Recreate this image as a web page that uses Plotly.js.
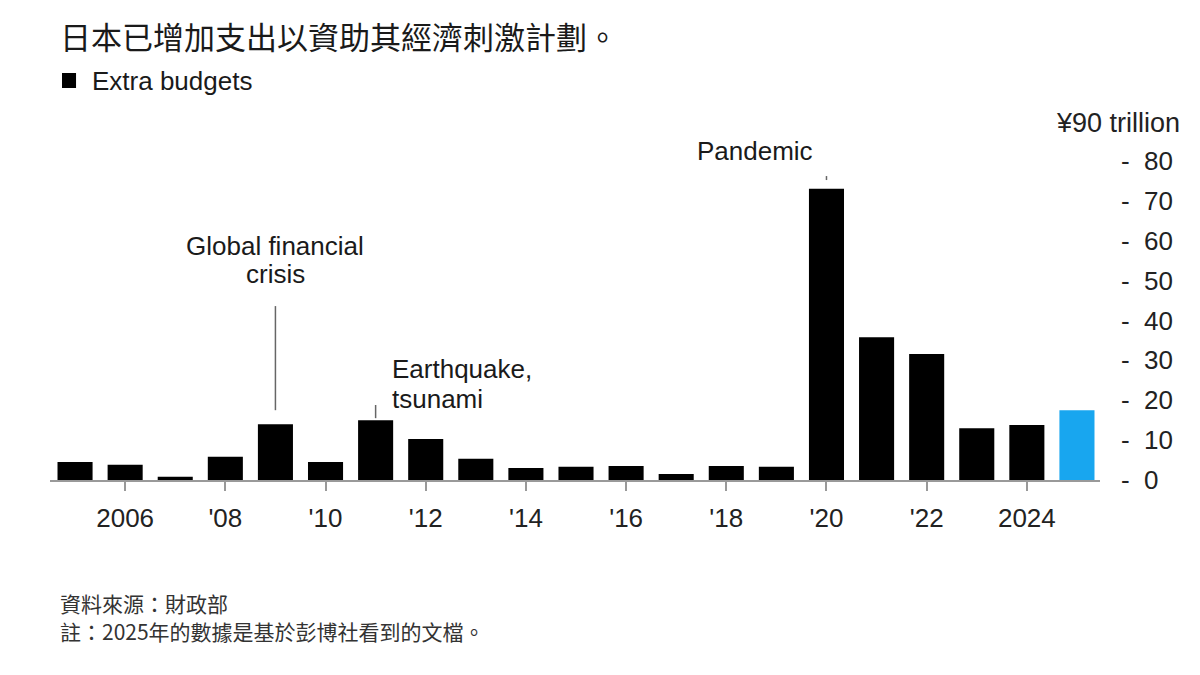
<!DOCTYPE html>
<html><head><meta charset="utf-8">
<script src="https://cdn.plot.ly/plotly-3.0.1.min.js"></script>
<style>body{margin:0;background:#fff}#c{width:1200px;height:675px}</style>
</head><body><div id="c"></div>
<script>
const years = [2005,2006,2007,2008,2009,2010,2011,2012,2013,2014,2015,2016,2017,2018,2019,2020,2021,2022,2023,2024,2025];
const budgets = [4.5,3.8,0.8,5.8,14,4.5,15,10.3,5.3,3.0,3.3,3.5,1.5,3.5,3.3,73,35.8,31.6,13,13.8,17.5];
const tickYears = [2006,2008,2010,2012,2014,2016,2018,2020,2022,2024];
const tickLabels = ["2006","'08","'10","'12","'14","'16","'18","'20","'22","2024"];
const yTicks = [0,10,20,30,40,50,60,70,80];
const yTickLabels = yTicks.map(v => "-  " + v);

const colors = years.map(y => y === 2025 ? '#18a6ef' : '#000000');
const font = "Liberation Sans, Arial, Noto Sans CJK TC, sans-serif";
const cjk = "Noto Sans CJK TC, Liberation Sans, sans-serif";
const txt = '#1a1a1a';

const trace = {type:'bar', x: years, y: budgets, marker:{color: colors}, width:0.7, hoverinfo:'x+y'};

function ann(text, x, y, xanchor, size, xref, yref, f, color) {
  return {text:text, xref:xref||'x', yref:yref||'y', x:x, y:y, xanchor:xanchor, yanchor:'middle', showarrow:false,
    font:{family:f||font, size:size, color:color||txt}};
}

const layout = {
  width:1200, height:675,
  margin:{l:50, r:100, t:121, b:195},
  paper_bgcolor:'#fff', plot_bgcolor:'#fff',
  showlegend:false,
  xaxis:{range:[2004.5,2025.46], tickvals:tickYears, ticktext:tickLabels, ticks:'outside', ticklen:9, tickwidth:2, tickcolor:'#999',
    showline:true, linecolor:'#999', linewidth:2, showgrid:false, zeroline:false, ticklabelstandoff:5,
    tickfont:{family:font, size:26, color:'#222'}},
  yaxis:{range:[0,90], side:'right', tickvals:yTicks, ticktext:yTickLabels, ticks:'', showgrid:false, zeroline:false, showline:false,
    ticklabelstandoff:20, tickfont:{family:font, size:26, color:'#222'}},
  annotations:[
    ann('日本已增加支出以資助其經濟刺激計劃。', 0.0076, 1.2368, 'left', 31, 'paper', 'paper', cjk),
    ann('Extra budgets', 0.0381, 1.1128, 'left', 26, 'paper', 'paper'),
    ann('¥90 trillion', 1.078, (480-123)/359, 'right', 27, 'paper', 'paper', font, '#222'),
    ann('Global financial', 2009, 58.66, 'center', 26),
    ann('crisis', 2009, 51.64, 'center', 26),
    ann('Earthquake,', 2011.29, 27.83, 'left', 26),
    ann('tsunami', 2011.29, 20.31, 'left', 26),
    ann('Pandemic', 2018.57, 82.48, 'center', 26),
    ann('資料來源：財政部', 0.0076, -0.3426, 'left', 21, 'paper', 'paper', cjk, '#333'),
    ann('註：2025年的數據是基於彭博社看到的文檔。', 0.0076, -0.4206, 'left', 21, 'paper', 'paper', cjk, '#333')
  ],
  shapes:[
    {type:'rect', xref:'paper', yref:'paper', x0:0.0114, x1:0.0248, y0:(480-88)/359, y1:(480-73)/359, fillcolor:'#000', line:{width:0}},
    {type:'line', xref:'x', yref:'y', x0:2009, x1:2009, y0:budgets[4]+3.5, y1:43.6, line:{color:'#666', width:1.5}},
    {type:'line', xref:'x', yref:'y', x0:2011, x1:2011, y0:budgets[6]+0.5, y1:18.8, line:{color:'#666', width:1.5}},
    {type:'line', xref:'x', yref:'y', x0:2020, x1:2020, y0:budgets[15]+2.2, y1:76.2, line:{color:'#666', width:1.5}}
  ]
};
Plotly.newPlot('c',[trace],layout,{displayModeBar:false, staticPlot:true});
</script></body></html>
